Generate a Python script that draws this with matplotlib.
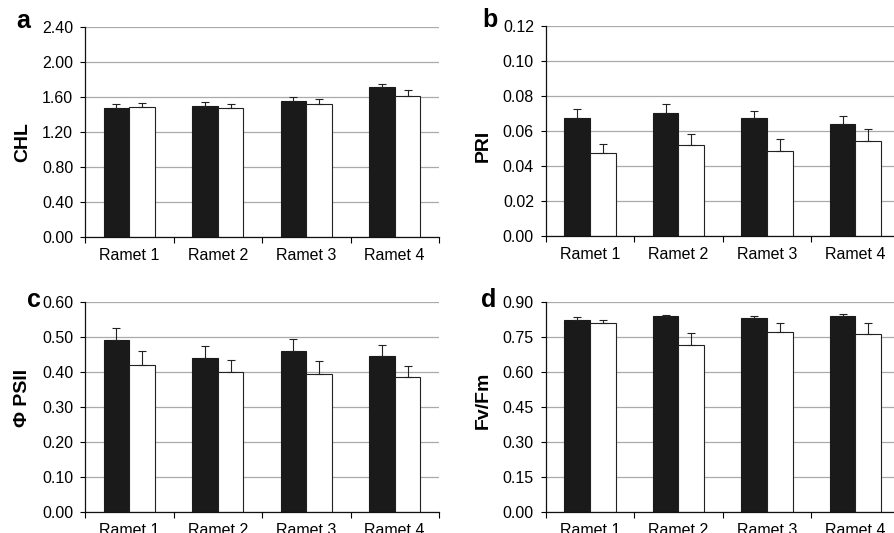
import numpy as np
import matplotlib
matplotlib.use('Agg')
import matplotlib.pyplot as plt

plt.rcParams['font.family'] = ['Liberation Sans', 'DejaVu Sans']

# Data (mean, upper error bar end)
ramets = ['Ramet 1', 'Ramet 2', 'Ramet 3', 'Ramet 4']

chl_black = [1.47, 1.50, 1.56, 1.71]
chl_black_err = [0.045, 0.045, 0.042, 0.043]
chl_white = [1.49, 1.47, 1.52, 1.615]
chl_white_err = [0.04, 0.046, 0.06, 0.062]

pri_black = [0.0673, 0.0705, 0.0673, 0.0638]
pri_black_err = [0.0051, 0.0048, 0.0040, 0.0050]
pri_white = [0.0474, 0.0518, 0.0486, 0.0541]
pri_white_err = [0.0053, 0.0067, 0.0070, 0.0070]

psii_black = [0.492, 0.441, 0.462, 0.447]
psii_black_err = [0.036, 0.033, 0.032, 0.031]
psii_white = [0.422, 0.401, 0.395, 0.386]
psii_white_err = [0.038, 0.035, 0.037, 0.033]

fvfm_black = [0.823, 0.840, 0.831, 0.841]
fvfm_black_err = [0.014, 0.007, 0.012, 0.009]
fvfm_white = [0.810, 0.716, 0.771, 0.764]
fvfm_white_err = [0.014, 0.051, 0.039, 0.046]

panels = [
    # letter, ylabel, ymax, step, black, black_err, white, white_err
    ('a', 'CHL', 2.40, 0.40, chl_black, chl_black_err, chl_white, chl_white_err),
    ('b', 'PRI', 0.12, 0.02, pri_black, pri_black_err, pri_white, pri_white_err),
    ('c', 'Φ PSII', 0.60, 0.10, psii_black, psii_black_err, psii_white, psii_white_err),
    ('d', 'Fv/Fm', 0.90, 0.15, fvfm_black, fvfm_black_err, fvfm_white, fvfm_white_err),
]

W, H = 894, 533
fig = plt.figure(figsize=(W / 100, H / 100), dpi=100)

# axes boxes in pixels: left, top, right, bottom
boxes = [(85, 27, 439, 237), (545.7, 26, 899.7, 236),
         (85, 302.3, 439, 512.3), (545.7, 302.3, 899.7, 512.3)]
letter_pos = [(16, 28), (482, 27), (27, 307), (481, 307)]
ylabel_pos = [(22.5, 142), (483.5, 145.5), (22.5, 397.5), (483.5, 400.5)]

x = np.arange(len(ramets))
bw = 0.29

for (letter, ylab, ymax, step, bk, bke, wh, whe), box, lp, yp in zip(panels, boxes, letter_pos, ylabel_pos):
    l, t, r, b = box
    ax = fig.add_axes([l / W, (H - b) / H, (r - l) / W, (b - t) / H])
    ax.set_axisbelow(True)
    ax.bar(x - bw / 2, bk, bw, color='#1a1a1a', edgecolor='#1a1a1a', linewidth=0.8, zorder=2)
    ax.bar(x + bw / 2, wh, bw, color='white', edgecolor='#222222', linewidth=0.8, zorder=2)
    ax.errorbar(x - bw / 2, bk, yerr=[np.zeros(4), bke], fmt='none', ecolor='#222222',
                elinewidth=0.8, capsize=2.8, capthick=0.8, zorder=3)
    ax.errorbar(x + bw / 2, wh, yerr=[np.zeros(4), whe], fmt='none', ecolor='#222222',
                elinewidth=0.8, capsize=2.8, capthick=0.8, zorder=3)

    ax.set_xlim(-0.5, 3.5)
    ax.set_ylim(0, ymax)
    yt = np.arange(0, ymax + step / 2, step)
    ax.set_yticks(yt)
    ax.set_yticklabels(['%.2f' % v for v in yt], fontsize=11.5)
    ax.yaxis.grid(True, color='#aaaaaa', linewidth=0.9)

    ax.set_xticks(x)
    ax.set_xticklabels(ramets, fontsize=11.5)
    ax.tick_params(axis='x', which='major', length=0, pad=8)
    ax.set_xticks(np.arange(-0.5, 3.6, 1.0), minor=True)
    ax.tick_params(axis='x', which='minor', length=4, width=0.8, direction='out')
    ax.tick_params(axis='y', length=3.5, width=0.8, pad=5, direction='out')

    for s in ['top', 'right']:
        ax.spines[s].set_visible(False)
    for s in ['left', 'bottom']:
        ax.spines[s].set_linewidth(0.9)
        ax.spines[s].set_color('#111111')

    fig.text(lp[0] / W, 1 - lp[1] / H, letter, fontsize=18, fontweight='bold',
             ha='left', va='baseline')
    fig.text(yp[0] / W, 1 - yp[1] / H, ylab, fontsize=14, fontweight='bold',
             rotation=90, ha='center', va='center')

fig.savefig('out.png', dpi=100)
